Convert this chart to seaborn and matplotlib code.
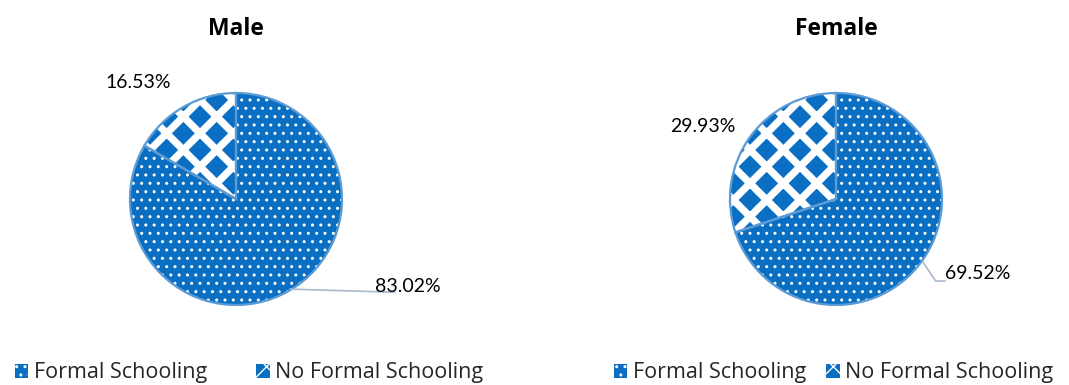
import matplotlib
matplotlib.use("Agg")
import matplotlib.pyplot as plt
import seaborn as sns

# ── DATA ───────────────────────────────────────────────
categories = ['Formal Schooling', 'No Formal Schooling']
groups = ['Male', 'Female']
male_values = [83.02, 16.53]
female_values = [69.52, 29.93]

# ── STYLE ──────────────────────────────────────────────
sns.set_theme(style='white')
plt.rcParams['font.family'] = ['Open Sans', 'DejaVu Sans']

blue = '#0A6FC2'
rim = '#5B9BD5'
leader = '#A9B8CC'
hatches = ['..', 'x']
hatch_lw = [1.0, 5.3]
label_font = ['Lato', 'DejaVu Sans']

W, H, R = 1069, 385, 106.0
fig = plt.figure(figsize=(W / 100, H / 100), dpi=100)


def make_axes(x0, x1, cx, cy=199, top=50, bottom=340):
    ax = fig.add_axes([x0 / W, (H - bottom) / H, (x1 - x0) / W, (bottom - top) / H])
    lims = ((x0 - cx) / R, (x1 - cx) / R), (-(bottom - cy) / R, (cy - top) / R)
    return ax, lims


def draw_pie(ax, lims, values):
    wedges, _ = ax.pie(values, startangle=90, counterclock=False,
                       colors=[blue, blue],
                       wedgeprops=dict(edgecolor='white', linewidth=0))
    for w, h, lw in zip(wedges, hatches, hatch_lw):
        w.set_hatch(h)
        if hasattr(w, 'set_hatch_linewidth'):
            w.set_hatch_linewidth(lw)
    ax.pie(values, startangle=90, counterclock=False,
           colors=['none', 'none'],
           wedgeprops=dict(edgecolor=rim, linewidth=1.6))
    ax.set_aspect('auto')
    ax.set_xlim(*lims[0])
    ax.set_ylim(*lims[1])
    ax.axis('off')
    return wedges


# ── MALE ───────────────────────────────────────────────
ax_m, lim_m = make_axes(0, 534, 236)
wm = draw_pie(ax_m, lim_m, male_values)
ax_m.text(0, 1.605, groups[0], ha='center', va='center', fontsize=16.5,
          fontweight='bold', color='black')
ax_m.text(-0.925, 1.10, f'{male_values[1]:.2f}%', ha='center', va='center',
          fontsize=14, family=label_font, color='black')
ax_m.plot([0.51, 1.50], [-0.85, -0.88], color=leader, lw=1.2)
ax_m.text(1.62, -0.83, f'{male_values[0]:.2f}%', ha='center', va='center',
          fontsize=14, family=label_font, color='black')

# ── FEMALE ─────────────────────────────────────────────
ax_f, lim_f = make_axes(534, 1069, 836)
wf = draw_pie(ax_f, lim_f, female_values)
ax_f.text(0, 1.605, groups[1], ha='center', va='center', fontsize=16.5,
          fontweight='bold', color='black')
ax_f.text(-1.255, 0.68, f'{female_values[1]:.2f}%', ha='center', va='center',
          fontsize=14, family=label_font, color='black')
ax_f.plot([0.82, 0.94, 1.03], [-0.594, -0.774, -0.774], color=leader, lw=1.2)
ax_f.text(1.34, -0.70, f'{female_values[0]:.2f}%', ha='center', va='center',
          fontsize=14, family=label_font, color='black')

# ── LEGENDS ────────────────────────────────────────────
for wedges, x0, gap in [(wm, 15 / W, 2.3), (wf, 614 / W, 0.95)]:
    fig.legend(wedges, categories, ncol=2, loc='lower left',
               bbox_to_anchor=(x0, 0.004), frameon=False, fontsize=15.5,
               handlelength=0.62, handleheight=0.62, handletextpad=0.25,
               columnspacing=gap, borderaxespad=0, borderpad=0)

fig.savefig('out.png', dpi=100)
